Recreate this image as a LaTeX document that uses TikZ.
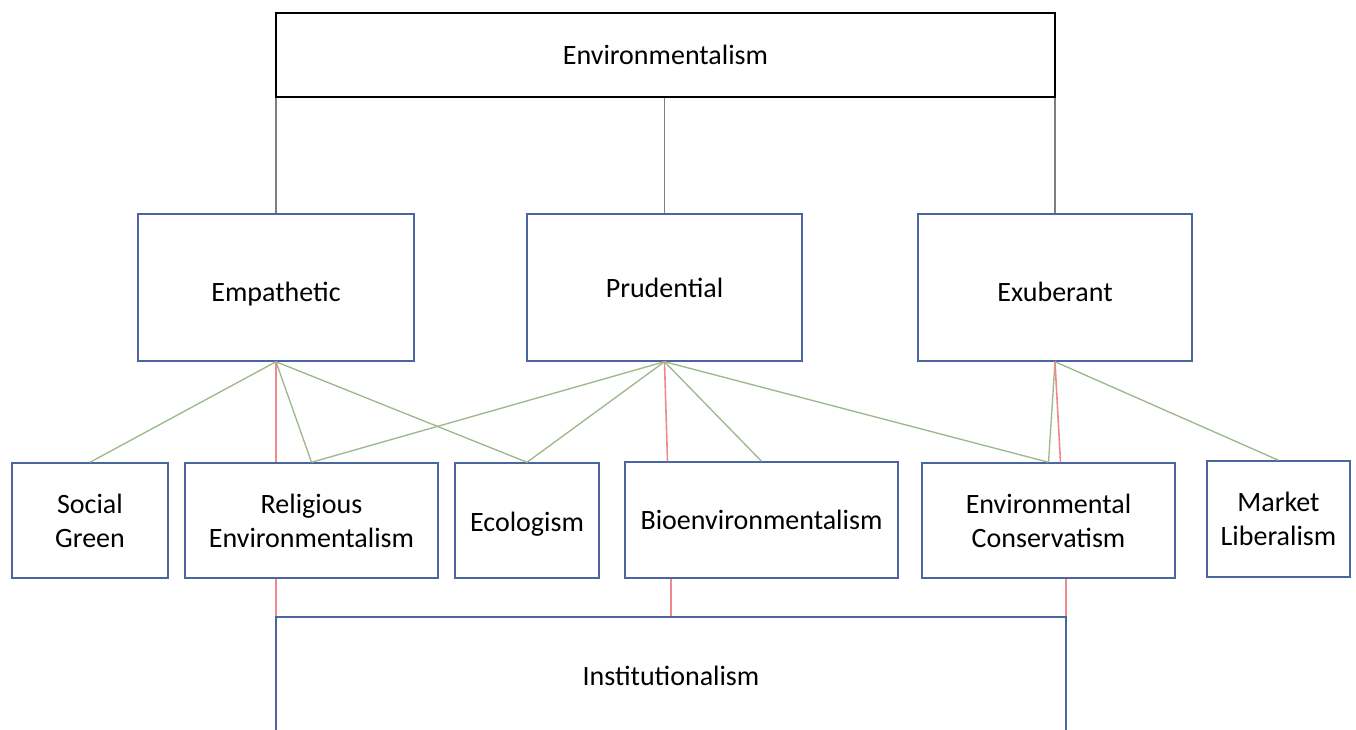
\documentclass[tikz,border=0pt]{standalone}
\usepackage{fontspec}
\setmainfont{Carlito}
\usetikzlibrary{calc}
\definecolor{boxblue}{HTML}{4A65A0}
\definecolor{linkgreen}{HTML}{9DB88A}
\definecolor{linkred}{HTML}{F08A8A}
\definecolor{linkgray}{HTML}{7F7F7F}
\tikzset{
  box/.style={draw=boxblue, line width=1.1pt, fill=white, inner sep=0pt,
    align=center, font=\fontsize{21}{25.5}\selectfont,
    minimum width={#1}},
  topbox/.style={box={#1}, draw=black},
  tie/.style={draw=linkgray, line width=0.8pt},
  green link/.style={draw=linkgreen, line width=1pt},
  red link/.style={draw=linkred, line width=1.2pt},
}
\begin{document}
\begin{tikzpicture}[x=0.75pt, y=-0.75pt]
  \useasboundingbox (0,0) rectangle (1356,730);
  \clip (0,0) rectangle (1356,730);

  % top concept
  \node[topbox={779*0.75pt}, minimum height={84*0.75pt}] (env) at (665.5,55) {Environmentalism};

  % three motivations
  \node[box={276*0.75pt}, minimum height={147*0.75pt}, text height=24.8pt, text depth=4pt] (emp) at (276,287.5) {Empathetic};
  \node[box={275*0.75pt}, minimum height={147*0.75pt}, text height=18.8pt, text depth=4pt] (pru) at (664.5,287.5) {Prudential};
  \node[box={274*0.75pt}, minimum height={147*0.75pt}, text height=24.8pt, text depth=4pt] (exu) at (1055,287.5) {Exuberant};

  % ideologies
  \node[box={156*0.75pt}, minimum height={115*0.75pt}] (sg) at (90,520.5) {Social\\Green};
  \node[box={253*0.75pt}, minimum height={115*0.75pt}] (rel) at (311.5,520.5) {Religious\\Environmentalism};
  \node[box={144*0.75pt}, minimum height={115*0.75pt}, text height=20.2pt, text depth=4pt] (eco) at (527,520.5) {Ecologism};
  \node[box={273*0.75pt}, minimum height={116*0.75pt}] (bio) at (761.5,520) {Bioenvironmentalism};
  \node[box={253*0.75pt}, minimum height={115*0.75pt}] (cons) at (1048.5,520.5) {Environmental\\Conservatism};
  \node[box={143*0.75pt}, minimum height={116*0.75pt}] (mkt) at (1278.5,519) {Market\\Liberalism};

  % institutional base
  \node[box={790*0.75pt}, minimum height={118*0.75pt}] (inst) at (671,676) {Institutionalism};

  % links from the top concept
  \draw[tie] (env.south -| emp.north) -- (emp.north);
  \draw[tie] (env.south -| pru.north) -- (pru.north);
  \draw[tie] (env.south -| exu.north) -- (exu.north);

  % empathetic links
  \draw[green link] (emp.south) -- (sg.north);
  \draw[green link] (emp.south) -- (rel.north);
  \draw[green link] (emp.south) -- (eco.north);
  \draw[red link] (emp.south) -- (emp.south |- rel.north);

  % prudential links
  \draw[green link] (pru.south) -- (rel.north);
  \draw[green link] (pru.south) -- (eco.north);
  \draw[green link] (pru.south) -- (bio.north);
  \draw[green link] (pru.south) -- (cons.north);
  \draw[red link] (pru.south) -- ($(pru.south |- bio.north)+(3,0)$);

  % exuberant links
  \draw[green link] (exu.south) -- (cons.north);
  \draw[green link] (exu.south) -- (mkt.north);
  \draw[red link] (exu.south) -- ($(cons.north)+(12,0)$);

  % links down to institutionalism
  \draw[red link] ($(rel.south -| inst.north west)+(1,0)$) -- ($(inst.north west)+(1,0)$);
  \draw[red link] (bio.south -| inst.north) -- (inst.north);
  \draw[red link] ($(cons.south -| inst.north east)+(-0.5,0)$) -- ($(inst.north east)+(-0.5,0)$);
\end{tikzpicture}
\end{document}
